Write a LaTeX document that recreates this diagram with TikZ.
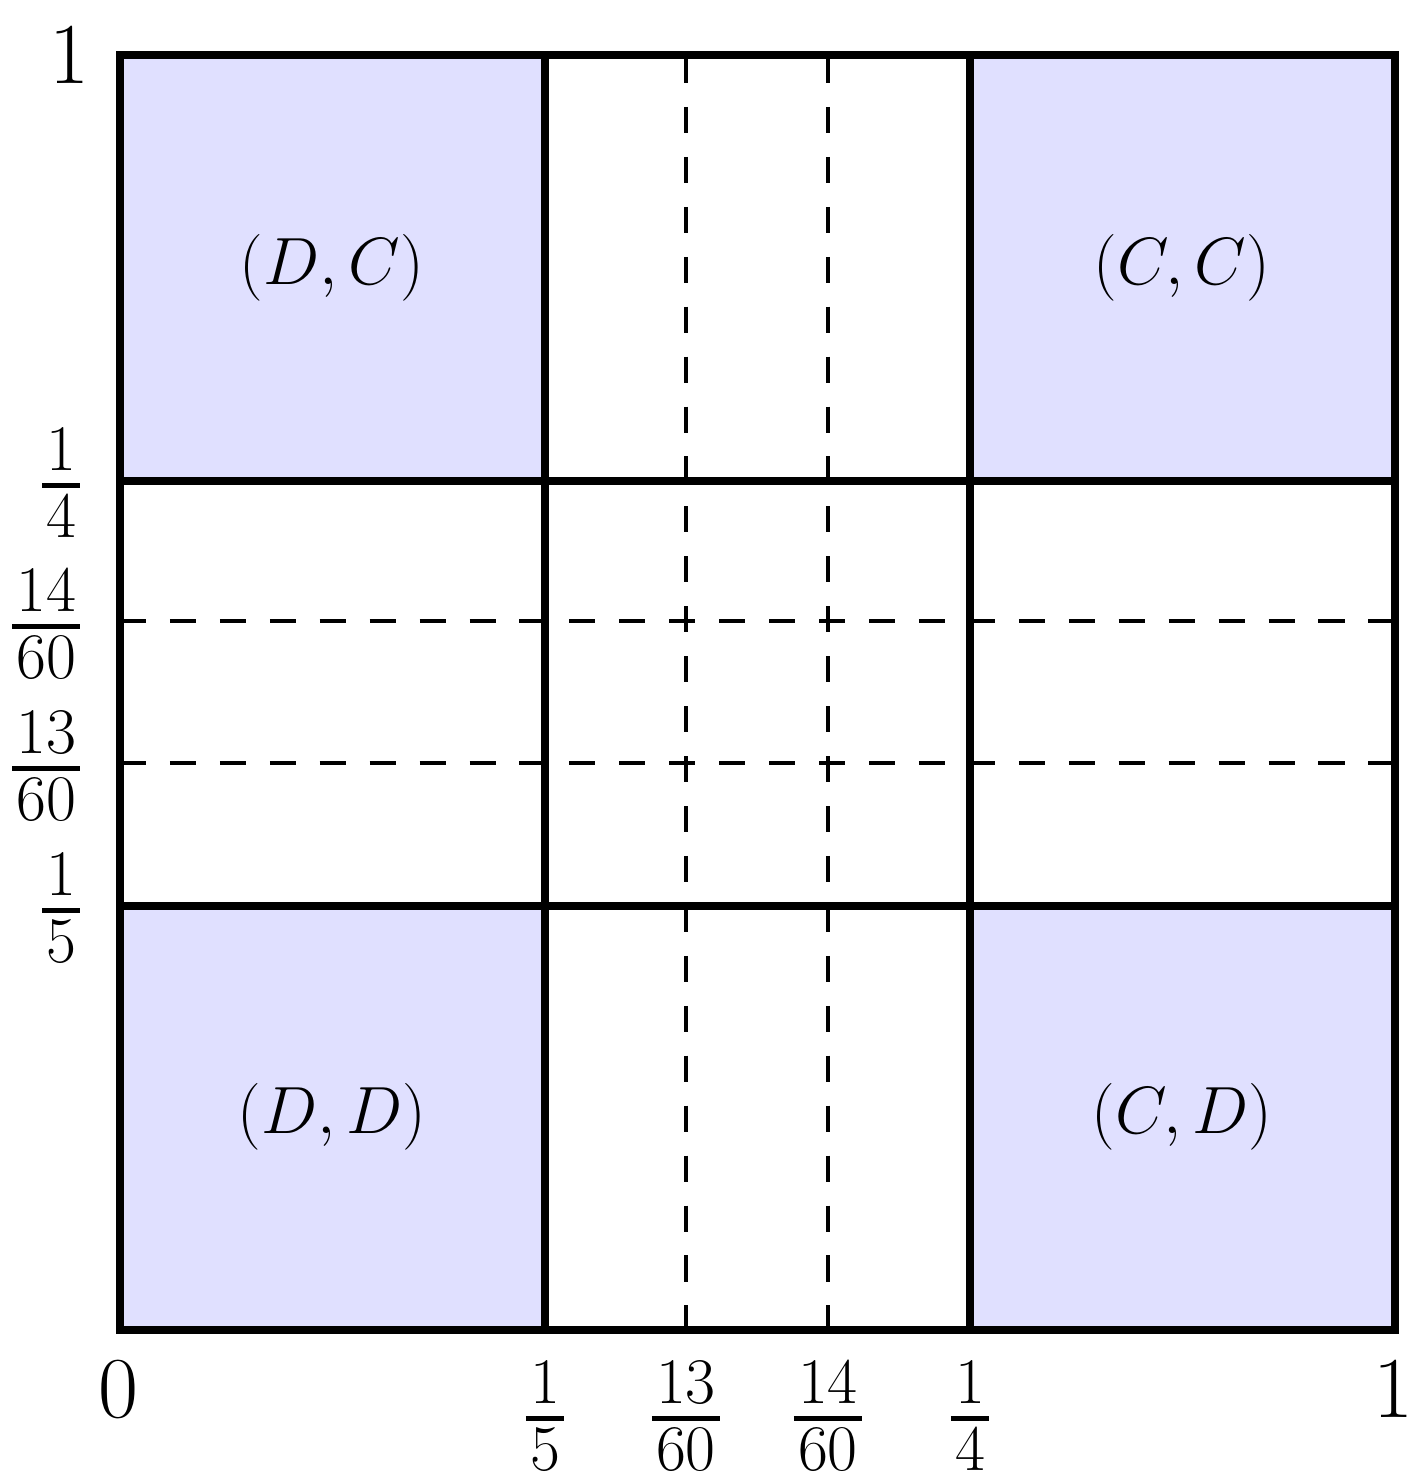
\RequirePackage{fix-cm}
\documentclass[tikz,border=0pt]{standalone}
\newcommand\myfr[2]{\ensuremath{\vcenter{\offinterlineskip\halign{\hfil\kern1.2pt##\kern1.2pt\hfil\cr $#1$\cr\noalign{\kern3.6pt}\omit\leaders\hrule height 1.5pt\hfill\cr\noalign{\kern2.2pt}$#2$\cr}}}}
\begin{document}
\begin{tikzpicture}[x=0.01cm,y=-0.01cm,
  thickline/.style={line width=2.2pt,black},
  dashline/.style={line width=1.1pt,dash pattern=on 7.4pt off 6.8pt},
  lab/.style={inner sep=0pt,font=\fontsize{19}{23}\selectfont},
  frlab/.style={inner sep=0pt,font=\fontsize{18.5}{22}\selectfont},
  big/.style={inner sep=0pt,font=\fontsize{24.7}{29}\selectfont}]
\useasboundingbox (0,0) rectangle (1419,1484);
% shaded cells
\fill[blue!12] (120,55) rectangle (545,481);
\fill[blue!12] (970,55) rectangle (1395,481);
\fill[blue!12] (120,906) rectangle (545,1330);
\fill[blue!12] (970,906) rectangle (1395,1330);
% dashed lines
\draw[dashline] (686,57) -- (686,1330);
\draw[dashline] (828,57) -- (828,1330);
\draw[dashline] (120,621) -- (1395,621);
\draw[dashline] (120,763) -- (1395,763);
% thick grid
\draw[thickline] (120,55) rectangle (1395,1330);
\draw[thickline] (545,55) -- (545,1330);
\draw[thickline] (970,55) -- (970,1330);
\draw[thickline] (120,481) -- (1395,481);
\draw[thickline] (120,906) -- (1395,906);
% cell labels
\node[lab] (dc) at (332,268) {$(D,C)$};
\node[lab] (cc) at (1182,268) {$(C,C)$};
\node[lab] (dd) at (332,1117) {$(D,D)$};
\node[lab] (cd) at (1182,1117) {$(C,D)$};
% axis labels
\node[big] (y1) at (69,55) {$1$};
\node[big] (x0) at (118,1389) {$0$};
\node[big] (x1) at (1393,1389) {$1$};
\node[frlab,anchor=east] (yq) at (81,483) {\myfr{1}{4}};
\node[frlab,anchor=east] (y14) at (81,624) {\myfr{14}{60}};
\node[frlab,anchor=east] (y13) at (81,766) {\myfr{13}{60}};
\node[frlab,anchor=east] (yf) at (81,908) {\myfr{1}{5}};
\node[frlab] (xf) at (545,1416) {\myfr{1}{5}};
\node[frlab] (x13) at (686,1416) {\myfr{13}{60}};
\node[frlab] (x14) at (828,1416) {\myfr{14}{60}};
\node[frlab] (xq) at (970,1416) {\myfr{1}{4}};
\end{tikzpicture}
\end{document}
